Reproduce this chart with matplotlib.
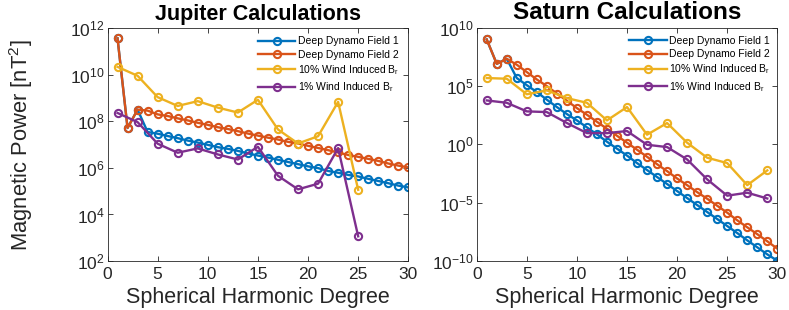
import numpy as np
import matplotlib
matplotlib.use('Agg')
import matplotlib.pyplot as plt
from matplotlib.ticker import LogFormatterSciNotation, NullLocator

plt.rcParams['font.family'] = ['Liberation Sans', 'DejaVu Sans']
plt.rcParams['mathtext.fontset'] = 'custom'
plt.rcParams['mathtext.rm'] = 'Liberation Sans'
plt.rcParams['mathtext.it'] = 'Liberation Sans:italic'
plt.rcParams['mathtext.default'] = 'regular'

# Degrees
deg_all = list(range(1, 31))
deg_odd_jup = list(range(1, 26, 2))
deg_odd_sat = list(range(1, 30, 2))

# Jupiter
jup_field1 = [3.7e11, 5.2e7, 3.2e8, 3.5e7, 2.95e7, 2.35e7, 1.9e7, 1.5e7, 1.23e7, 9.8e6,
              7.8e6, 6.6e6, 5.4e6, 4.2e6, 3.4e6, 2.8e6, 2.24e6, 1.8e6, 1.45e6, 1.17e6,
              9.8e5, 7.4e5, 6.2e5, 5.0e5, 4.3e5, 3.4e5, 2.75e5, 2.2e5, 1.74e5, 1.45e5]
jup_field2 = [3.7e11, 5.2e7, 3.2e8, 2.9e8, 2.0e8, 1.7e8, 1.35e8, 1.1e8, 8.7e7, 7.1e7,
              5.6e7, 4.7e7, 3.8e7, 3.0e7, 2.45e7, 2.0e7, 1.66e7, 1.32e7, 1.12e7, 8.9e6,
              7.2e6, 5.8e6, 4.6e6, 3.6e6, 3.0e6, 2.45e6, 2.0e6, 1.55e6, 1.26e6, 1.05e6]
jup_wind10 = [2.2e10, 9.1e9, 1.1e9, 4.6e8, 7.4e8, 3.9e8, 2.4e8, 8.5e8, 4.5e7, 1.12e7,
              2.3e7, 6.9e8, 1.15e5]
jup_wind1 = [2.3e8, 9.3e7, 1.1e7, 4.5e6, 6.9e6, 3.8e6, 2.3e6, 8.1e6, 4.6e5, 1.2e5,
             2.1e5, 7.1e6, 1.15e3]

# Saturn
sat_field1 = [1.0e9, 8.1e6, 2.2e7, 4.9e5, 1.2e5, 3.1e4, 6.8e3, 1.6e3, 4.0e2, 1.15e2,
              29, 7.2, 1.7, 0.43, 0.11, 2.5e-2, 6.3e-3, 1.6e-3, 4.0e-4, 1.0e-4,
              2.5e-5, 6.3e-6, 1.6e-6, 4.0e-7, 1.0e-7, 2.5e-8, 5.9e-9, 1.5e-9, 3.7e-10, 1.07e-10]
sat_field2 = [1.0e9, 8.1e6, 2.2e7, 6.8e6, 1.6e6, 3.7e5, 1.0e5, 2.3e4, 5.5e3, 1.3e3,
              3.5e2, 87, 22, 5.5, 1.4, 0.35, 8.7e-2, 2.0e-2, 5.1e-3, 1.2e-3,
              3.2e-4, 8.1e-5, 2.2e-5, 5.5e-6, 1.4e-6, 3.1e-7, 7.8e-8, 2.0e-8, 4.9e-9, 1.15e-9]
sat_wind10 = [4.9e5, 4.3e5, 2.0e4, 4.3e4, 9.3e3, 3.7e3, 1.15e2, 1.6e3, 6.8, 68,
              1.4, 7.2e-2, 2.5e-2, 3.2e-4, 5.9e-3]
sat_wind1 = [5.9e3, 3.7e3, 6.8e2, 5.9e2, 68, 9.3, 9.3, 14, 0.93, 0.59,
             5.1e-2, 1.0e-3, 4.0e-5, 7.2e-5, 2.3e-5]

labels = ['Deep Dynamo Field 1', 'Deep Dynamo Field 2',
          r'10% Wind Induced B$_\mathrm{r}$', r'1% Wind Induced B$_\mathrm{r}$']
colors = ['#0072BD', '#D95319', '#EDB120', '#7E2F8E']
dark = '#262626'

fig = plt.figure(figsize=(7.89, 3.10), dpi=100)
ax1 = fig.add_axes([107.5 / 789, 49 / 310, 300.8 / 789, 232.7 / 310])
ax2 = fig.add_axes([476.7 / 789, 49 / 310, 300.6 / 789, 233.2 / 310])


def draw(ax, x_odd, f1, f2, w10, w1, ylim, yticks, title, tsize, leg_x):
    series = [(deg_all, f1), (deg_all, f2), (x_odd, w10), (x_odd, w1)]
    for (x, y), c, lab in zip(series, colors, labels):
        ax.plot(x, y, '-o', color=c, lw=1.7, ms=5.2, mew=1.5, mfc='none', label=lab)
    ax.set_yscale('log')
    ax.set_xlim(0, 30)
    ax.set_ylim(*ylim)
    ax.set_xticks([0, 5, 10, 15, 20, 25, 30])
    ax.set_yticks(yticks)
    ax.yaxis.set_major_formatter(LogFormatterSciNotation())
    ax.yaxis.set_minor_locator(NullLocator())
    ax.tick_params(direction='in', top=True, right=True, length=3.5, width=0.6,
                   color=dark, labelcolor=dark, labelsize=12.5)
    ax.tick_params(axis='x', pad=4)
    ax.tick_params(axis='y', pad=2)
    for s in ax.spines.values():
        s.set_color(dark)
        s.set_linewidth(0.6)
    ax.set_title(title, fontsize=tsize, fontweight='bold', pad=6)
    ax.set_xlabel('Spherical Harmonic Degree', fontsize=15.5, color=dark, labelpad=4)
    ax.legend(loc='upper right', bbox_to_anchor=(leg_x, 0.965), frameon=False,
              fontsize=7.5, handlelength=3.6, handletextpad=0.25, labelspacing=0.32,
              borderpad=0, borderaxespad=0)


draw(ax1, deg_odd_jup, jup_field1, jup_field2, jup_wind10, jup_wind1,
     (1e2, 1e12), [1e2, 1e4, 1e6, 1e8, 1e10, 1e12], 'Jupiter Calculations', 15.5, 0.97)
draw(ax2, deg_odd_sat, sat_field1, sat_field2, sat_wind10, sat_wind1,
     (1e-10, 1e10), [1e-10, 1e-5, 1e0, 1e5, 1e10], 'Saturn Calculations', 17.5, 0.978)

fig.text(21 / 789, 1 - 145 / 310, 'Magnetic Power [nT$^2$]', rotation=90,
         ha='center', va='center', fontsize=15.8, color=dark)

fig.savefig('out.png', dpi=100)
